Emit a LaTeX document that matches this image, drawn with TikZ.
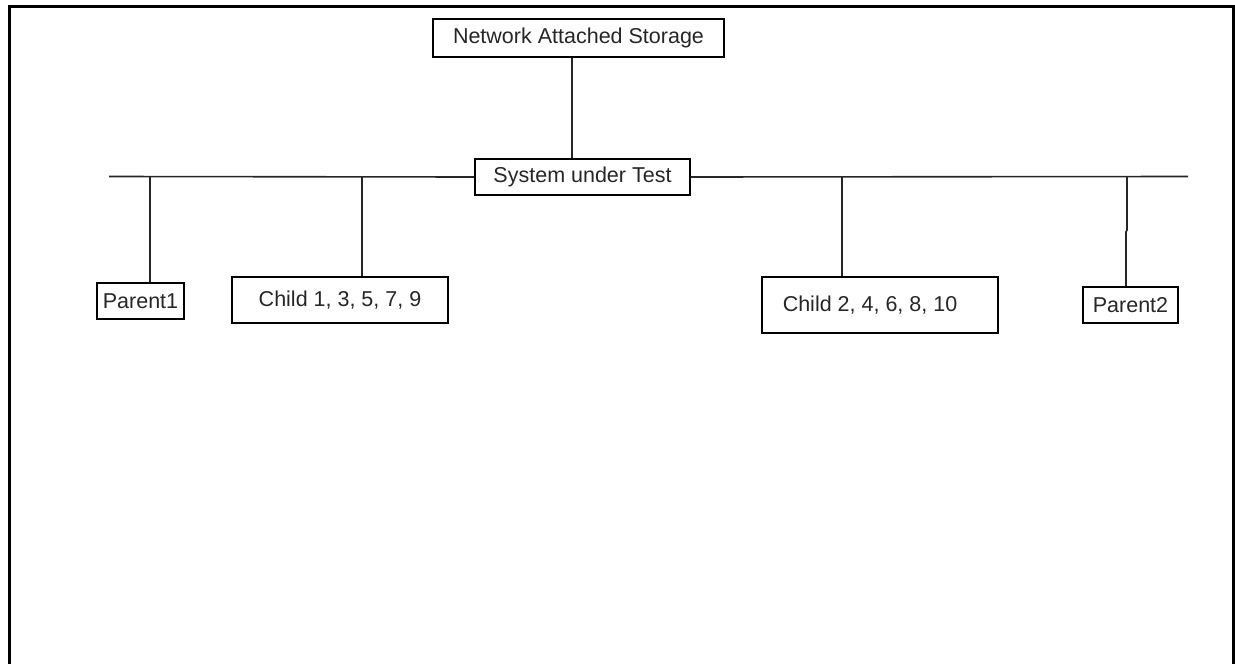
\documentclass[tikz,border=0pt]{standalone}
\usepackage{fontspec}
\setmainfont{Liberation Sans}
\begin{document}
\begin{tikzpicture}[x=1pt,y=-1pt,
  box/.style={draw,line width=1.6pt,rectangle,inner sep=0pt,font=\fontsize{21.5}{25}\selectfont,text=black!85},
  wire/.style={line width=1.6pt,draw=black!85}]
\useasboundingbox (0,0) rectangle (1235,664);
\draw[line width=3pt] (9.5,664) -- (9.5,6.5) -- (1233.5,6.5) -- (1233.5,664);
\node[box,minimum width=291pt,minimum height=38pt] (nas) at (578.5,38) {Network Attached Storage};
\node[box,minimum width=215pt,minimum height=36pt] (sut) at (582.5,177) {System under Test};
\node[box,minimum width=87pt,minimum height=36pt] (p1) at (140.5,301) {Parent1};
\node[box,minimum width=216pt,minimum height=46pt] (c1) at (340,300) {Child 1, 3, 5, 7, 9};
\node[box,minimum width=236pt,minimum height=56pt] (c2) at (880,305) {\hspace*{-20pt}Child 2, 4, 6, 8, 10};
\node[box,minimum width=95pt,minimum height=36pt] (p2) at (1130.5,305) {Parent2};
\coordinate (busL) at (109,176.5);
\coordinate (busR) at (1188,176.5);
\coordinate (jn) at (571.7,57);
\coordinate (j1) at (150,176.5);
\coordinate (j2) at (362,176.5);
\coordinate (j3) at (842,176.5);
\coordinate (j4) at (1127,176.5);
\coordinate (k4) at (1127,230);
\coordinate (m4) at (1126,232);
\draw[wire] (jn |- nas.south) -- (jn |- sut.north);
\draw[wire] (busL) -- (sut.west);
\draw[wire] (sut.east) -- (busR);
\draw[wire] (j1) -- (j1 |- p1.north);
\draw[wire] (j2) -- (j2 |- c1.north);
\draw[wire] (j3) -- (j3 |- c2.north);
\draw[wire] (j4) -- (k4) -- (m4) -- (m4 |- p2.north);
\end{tikzpicture}
\end{document}
